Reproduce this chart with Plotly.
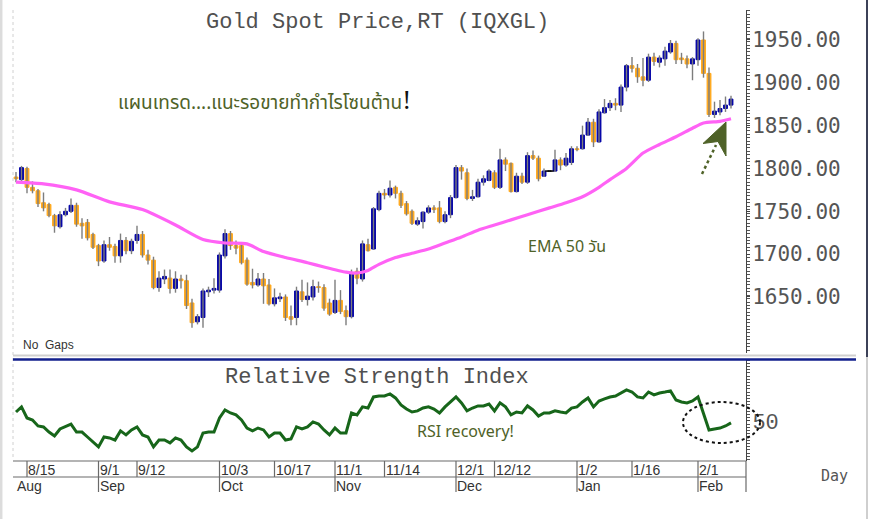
import plotly.graph_objects as go
import pandas as pd

W, H = 872, 519

# ---------------- data ----------------
dates = [d.strftime('%Y-%m-%d') for d in pd.bdate_range('2022-08-11', '2023-02-09')]

opens = [1790, 1787, 1800, 1778, 1774, 1760, 1758, 1745, 1732, 1746, 1750, 1757, 1736, 1737, 1723, 1710,
         1692, 1711, 1709, 1698, 1716, 1704, 1716, 1723, 1699, 1693, 1661, 1671, 1672, 1660, 1671, 1669,
         1643, 1621, 1626, 1656, 1658, 1658, 1698, 1724, 1710, 1710, 1693, 1667, 1664, 1671, 1664, 1642,
         1648, 1650, 1627, 1626, 1656, 1647, 1650, 1662, 1661, 1643, 1632, 1646, 1634, 1627, 1680, 1671,
         1711, 1706, 1752, 1771, 1769, 1778, 1771, 1759, 1750, 1735, 1738, 1749, 1754, 1754, 1738, 1746,
         1766, 1801, 1795, 1765, 1767, 1784, 1786, 1795, 1778, 1810, 1806, 1773, 1791, 1784, 1815, 1812,
         1791, 1797, 1797, 1810, 1804, 1807, 1823, 1823, 1839, 1854, 1831, 1865, 1871, 1876, 1874, 1895,
         1920, 1917, 1907, 1903, 1930, 1924, 1928, 1936, 1946, 1929, 1928, 1922, 1927, 1950, 1911, 1863,
         1866, 1870, 1874]
highs = [1796, 1803, 1802, 1785, 1776, 1772, 1760, 1747, 1750, 1754, 1765, 1760, 1742, 1741, 1725, 1712,
         1716, 1720, 1712, 1724, 1720, 1718, 1733, 1727, 1705, 1697, 1680, 1682, 1682, 1680, 1676, 1676,
         1648, 1630, 1660, 1662, 1672, 1702, 1729, 1727, 1716, 1713, 1696, 1683, 1678, 1678, 1671, 1660,
         1655, 1653, 1640, 1662, 1670, 1667, 1670, 1668, 1665, 1648, 1670, 1658, 1640, 1682, 1684, 1716,
         1718, 1755, 1774, 1776, 1786, 1780, 1774, 1762, 1752, 1743, 1750, 1757, 1757, 1762, 1750, 1769,
         1804, 1804, 1800, 1775, 1788, 1792, 1799, 1798, 1823, 1813, 1807, 1795, 1795, 1819, 1821, 1815,
         1800, 1798, 1822, 1813, 1818, 1826, 1826, 1850, 1859, 1858, 1869, 1881, 1880, 1882, 1898, 1922,
         1930, 1922, 1929, 1934, 1935, 1932, 1942, 1950, 1949, 1935, 1932, 1930, 1952, 1960, 1918, 1878,
         1880, 1884, 1885]
lows = [1784, 1785, 1771, 1771, 1755, 1750, 1743, 1725, 1730, 1744, 1748, 1732, 1718, 1716, 1706, 1686,
        1690, 1704, 1690, 1690, 1700, 1700, 1712, 1696, 1688, 1659, 1656, 1665, 1654, 1655, 1660, 1636,
        1614, 1618, 1614, 1650, 1654, 1655, 1695, 1705, 1700, 1688, 1663, 1660, 1662, 1642, 1640, 1639,
        1644, 1622, 1617, 1617, 1644, 1640, 1646, 1655, 1634, 1628, 1630, 1630, 1617, 1625, 1665, 1668,
        1703, 1705, 1750, 1764, 1766, 1765, 1754, 1745, 1734, 1733, 1730, 1747, 1748, 1736, 1736, 1742,
        1765, 1787, 1763, 1762, 1766, 1780, 1785, 1776, 1776, 1797, 1772, 1772, 1782, 1782, 1810, 1785,
        1790, 1796, 1796, 1798, 1802, 1804, 1820, 1822, 1838, 1825, 1830, 1864, 1867, 1868, 1866, 1890,
        1912, 1900, 1896, 1901, 1920, 1918, 1920, 1934, 1922, 1922, 1917, 1903, 1920, 1906, 1860, 1859,
        1862, 1866, 1870]
closes = [1788, 1801, 1778, 1774, 1759, 1754, 1745, 1733, 1746, 1750, 1757, 1735, 1733, 1719, 1708, 1692,
          1711, 1708, 1698, 1716, 1704, 1715, 1723, 1699, 1693, 1661, 1672, 1674, 1660, 1671, 1669, 1640,
          1620, 1627, 1657, 1658, 1660, 1699, 1724, 1710, 1707, 1690, 1665, 1664, 1671, 1663, 1642, 1649,
          1650, 1626, 1624, 1657, 1647, 1651, 1662, 1661, 1637, 1630, 1646, 1633, 1627, 1678, 1672, 1712,
          1704, 1753, 1771, 1769, 1777, 1771, 1757, 1747, 1736, 1739, 1749, 1754, 1752, 1738, 1746, 1766,
          1801, 1797, 1765, 1767, 1784, 1788, 1797, 1778, 1810, 1805, 1773, 1791, 1784, 1815, 1812, 1788,
          1797, 1797, 1810, 1804, 1812, 1823, 1822, 1839, 1854, 1831, 1866, 1871, 1876, 1874, 1895, 1920,
          1917, 1907, 1903, 1930, 1925, 1929, 1937, 1946, 1927, 1927, 1922, 1928, 1950, 1911, 1863, 1867,
          1870, 1874, 1881]

# EMA 50 at selected bars (bar index, value)
ema_idx = [0, 5, 11, 17, 23, 29, 34, 38, 42, 45, 49, 53, 56, 60, 62, 64, 66, 69, 72, 75, 78, 81, 84, 87,
           90, 93, 97, 100, 103, 106, 108, 111, 114, 117, 120, 123, 125, 128, 130]
ema_val = [1784, 1782, 1775, 1761, 1752, 1734, 1717, 1713, 1712, 1703, 1696, 1690, 1685, 1679, 1678, 1681,
           1688, 1696, 1701, 1706, 1713, 1720, 1728, 1734, 1740, 1746, 1754, 1760, 1767, 1778, 1787, 1800,
           1818, 1828, 1837, 1847, 1853, 1855, 1858]

rsi = [55.6, 58.8, 51.9, 50.6, 46.9, 46.3, 43.1, 40.6, 45.0, 46.3, 48.1, 43.1, 43.1, 40.0, 36.9, 33.8,
       40.0, 39.4, 38.1, 43.8, 41.3, 44.4, 46.3, 41.3, 40.0, 33.8, 38.1, 38.1, 36.3, 39.4, 38.1, 33.8,
       31.3, 33.8, 42.5, 43.1, 43.1, 51.9, 56.9, 55.0, 53.8, 50.6, 45.6, 43.8, 45.6, 44.4, 40.0, 42.5,
       42.5, 38.1, 38.8, 46.3, 45.0, 46.3, 49.4, 48.1, 44.4, 41.3, 45.6, 42.5, 42.5, 55.0, 53.8, 58.8,
       58.1, 65.0, 65.6, 65.6, 66.9, 64.4, 60.0, 57.5, 55.6, 56.3, 58.1, 58.8, 57.5, 55.0, 58.8, 61.9,
       65.0, 61.3, 56.3, 58.1, 59.4, 59.4, 60.6, 56.3, 61.3, 58.8, 53.8, 55.6, 55.0, 59.4, 56.9, 53.1,
       55.0, 55.0, 56.3, 55.6, 55.0, 58.1, 58.8, 61.9, 64.4, 58.8, 62.5, 63.8, 65.0, 65.6, 67.5, 69.4,
       68.1, 65.0, 64.4, 68.1, 66.3, 67.5, 68.1, 68.8, 63.1, 61.9, 61.3, 62.5, 65.0, 55.0, 44.4, 45.0,
       45.6, 46.9, 48.8]

price_ticks = [1650, 1700, 1750, 1800, 1850, 1900, 1950]
day_tick_dates = ['2022-08-15', '2022-09-01', '2022-09-12', '2022-10-03', '2022-10-17', '2022-11-01',
                  '2022-11-14', '2022-12-01', '2022-12-12', '2023-01-02', '2023-01-16', '2023-02-01']
day_tick_labels = ['8/15', '9/1', '9/12', '10/3', '10/17', '11/1', '11/14', '12/1', '12/12', '1/2', '1/16', '2/1']
month_tick_dates = ['2022-08-11', '2022-09-01', '2022-10-03', '2022-11-01', '2022-12-01', '2023-01-02', '2023-02-01']
month_labels = ['Aug', 'Sep', 'Oct', 'Nov', 'Dec', 'Jan', 'Feb']

# ---------------- styling ----------------
BLUE = '#0000a6'
ORANGE = '#ffa81c'
WICK = '#7d7d7d'
OLIVE = '#4f6228'
GREY_TXT = '#505050'


def px(x):
    return x / W


def py(y):
    return 1 - y / H


X0, X1 = 13, 746
x_dom = [px(X0), px(X1)]
# bar index i sits at pixel 16 + 5.5*i
x_range = [(X0 - 16) / 5.5, (X1 - 16) / 5.5]

fig = go.Figure()

# wicks
wx, wy = [], []
for d, lo, hi in zip(dates, lows, highs):
    wx += [d, d, None]
    wy += [lo, hi, None]
fig.add_trace(go.Scatter(x=wx, y=wy, mode='lines', line=dict(color=WICK, width=1.4),
                         hoverinfo='skip', xaxis='x', yaxis='y'))

# bodies
base, height, cols = [], [], []
for o, c in zip(opens, closes):
    base.append(min(o, c))
    height.append(abs(c - o))
    cols.append(BLUE if c > o else (ORANGE if c < o else '#000000'))
fig.add_trace(go.Bar(x=dates, y=height, base=base, width=0.7,
                     marker=dict(color=cols, line=dict(color=cols, width=1)),
                     hoverinfo='skip', xaxis='x', yaxis='y'))

# dojis
dj_x = [d for d, o, c in zip(dates, opens, closes) if o == c]
dj_y = [c for o, c in zip(opens, closes) if o == c]
fig.add_trace(go.Scatter(x=dj_x, y=dj_y, mode='markers',
                         marker=dict(symbol='line-ew', size=6, line=dict(color='#000000', width=1.5)),
                         hoverinfo='skip', xaxis='x', yaxis='y'))

# EMA
fig.add_trace(go.Scatter(x=[dates[i] for i in ema_idx], y=ema_val, mode='lines',
                         line=dict(color='#ff62f5', width=3.2, shape='spline', smoothing=0.6),
                         hoverinfo='skip', xaxis='x', yaxis='y'))

# RSI
fig.add_trace(go.Scatter(x=dates, y=rsi, mode='lines', line=dict(color='#17661a', width=3),
                         hoverinfo='skip', xaxis='x', yaxis='y2'))

shapes = []
# left dotted plot edge
shapes.append(dict(type='line', xref='paper', yref='paper', x0=px(13), x1=px(13), y0=py(10), y1=py(460),
                   line=dict(color='#d0d0d0', width=1, dash='dot')))
# panel separator
shapes.append(dict(type='line', xref='paper', yref='paper', x0=px(13), x1=px(856), y0=py(355.5), y1=py(355.5),
                   line=dict(color='#cfcfcf', width=2)))
shapes.append(dict(type='line', xref='paper', yref='paper', x0=px(13), x1=px(856), y0=py(359.5), y1=py(359.5),
                   line=dict(color='#121f8c', width=2.5)))
# outer frame
shapes.append(dict(type='line', xref='paper', yref='paper', x0=px(1.2), x1=px(1.2), y0=0, y1=1,
                   line=dict(color='#dcdcdc', width=2.5)))
shapes.append(dict(type='line', xref='paper', yref='paper', x0=px(867), x1=px(867), y0=py(0), y1=py(357),
                   line=dict(color='#3c4158', width=2)))
shapes.append(dict(type='line', xref='paper', yref='paper', x0=px(867), x1=px(867), y0=py(357), y1=0,
                   line=dict(color='#cfcfcf', width=2)))
# date strip
for yy in (461, 477):
    shapes.append(dict(type='line', xref='paper', yref='paper', x0=px(X0), x1=px(X1), y0=py(yy), y1=py(yy),
                       line=dict(color='#6a6a6a', width=1.2)))
shapes.append(dict(type='line', xref='paper', yref='paper', x0=px(X1), x1=px(X1), y0=py(461), y1=py(492),
                   line=dict(color='#6a6a6a', width=1.2)))
for d in day_tick_dates:
    shapes.append(dict(type='line', xref='x', yref='paper', x0=d, x1=d, y0=py(461), y1=py(477),
                       line=dict(color='#6a6a6a', width=1.2)))
for d in month_tick_dates[1:]:
    shapes.append(dict(type='line', xref='x', yref='paper', x0=d, x1=d, y0=py(477), y1=py(492),
                       line=dict(color='#6a6a6a', width=1.2)))
# dotted ellipse around RSI recovery
shapes.append(dict(type='circle', xref='paper', yref='paper', x0=px(683), x1=px(760), y0=py(443), y1=py(402),
                   line=dict(color='#111111', width=2, dash='dot')))
# dotted arrow toward EMA
shapes.append(dict(type='line', xref='paper', yref='paper', x0=px(702), y0=py(174), x1=px(716), y1=py(145),
                   line=dict(color=OLIVE, width=2.5, dash='dot')))
head = 'M {} {} L {} {} L {} {} L {} {} Z'.format(px(726), py(122), px(703), py(143.5), px(718), py(141.5),
                                                  px(726), py(156))
shapes.append(dict(type='path', xref='paper', yref='paper', path=head, fillcolor=OLIVE,
                   line=dict(color=OLIVE, width=1)))

annotations = []
annotations.append(dict(xref='paper', yref='paper', x=px(377), y=py(23), text='Gold Spot Price,RT (IQXGL)',
                        showarrow=False, xanchor='center', yanchor='middle',
                        font=dict(family='Liberation Mono', size=22, color=GREY_TXT)))
annotations.append(dict(xref='paper', yref='paper', x=px(377), y=py(377), text='Relative Strength Index',
                        showarrow=False, xanchor='center', yanchor='middle',
                        font=dict(family='Liberation Mono', size=22, color=GREY_TXT)))
annotations.append(dict(xref='paper', yref='paper', x=px(116), y=py(101),
                        text='แผนเทรด....แนะรอขายทำกำไรโซนต้าน'
                             '<span style="color:#111111;font-family:Liberation Serif;font-size:27px">!</span>',
                        showarrow=False, xanchor='left', yanchor='middle',
                        font=dict(family='Noto Sans Thai, Tahoma, DejaVu Sans, sans-serif', size=19, color=OLIVE)))
annotations.append(dict(xref='paper', yref='paper', x=px(526), y=py(246), text='EMA 50 วัน',
                        showarrow=False, xanchor='left', yanchor='middle',
                        font=dict(family='Noto Sans, Noto Sans Thai, sans-serif', size=16, color=OLIVE)))
annotations.append(dict(xref='paper', yref='paper', x=px(415), y=py(431), text='RSI recovery!',
                        showarrow=False, xanchor='left', yanchor='middle',
                        font=dict(family='Noto Sans, sans-serif', size=16, color=OLIVE)))
annotations.append(dict(xref='paper', yref='paper', x=px(21), y=py(345), text='No  Gaps',
                        showarrow=False, xanchor='left', yanchor='middle',
                        font=dict(family='Liberation Sans', size=12, color='#333333')))
annotations.append(dict(xref='paper', yref='paper', x=px(819), y=py(476), text='Day',
                        showarrow=False, xanchor='left', yanchor='middle',
                        font=dict(family='DejaVu Sans Mono', size=15, color='#555555')))
for d, lab in zip(day_tick_dates, day_tick_labels):
    annotations.append(dict(xref='x', yref='paper', x=d, y=py(470), text=lab, showarrow=False,
                            xanchor='left', yanchor='middle', xshift=-1,
                            font=dict(family='Liberation Sans Narrow, Liberation Sans', size=14, color='#333333')))
for d, lab in zip(month_tick_dates, month_labels):
    annotations.append(dict(xref='x', yref='paper', x=d, y=py(486), text=lab, showarrow=False,
                            xanchor='left', yanchor='middle', xshift=-1,
                            font=dict(family='Liberation Sans Narrow, Liberation Sans', size=14, color='#333333')))

fig.update_layout(
    width=W, height=H, margin=dict(l=0, r=0, t=0, b=0),
    paper_bgcolor='white', plot_bgcolor='white', showlegend=False, barmode='overlay',
    xaxis=dict(domain=x_dom, type='category', range=x_range, showticklabels=False, showgrid=False,
               zeroline=False, showline=False, ticks='', anchor='y', categoryorder='array', categoryarray=dates),
    yaxis=dict(domain=[py(353), py(10)], range=[1584.6, 1985], side='right', anchor='x',
               tickvals=price_ticks, tickformat='.2f', showgrid=False, zeroline=False,
               showline=True, linecolor='#444444', linewidth=1, ticks='outside', ticklen=3, tickcolor='#444444',
               ticklabelstandoff=-2,
               tickfont=dict(family='DejaVu Sans Mono', size=21, color='#555555'),
               minor=dict(dtick=4, ticklen=3, tickcolor='#555555', ticks='outside', showgrid=False)),
    yaxis2=dict(domain=[py(461), py(360)], range=[25, 88.1], side='right', anchor='x',
                tickvals=[50], ticktext=['50'], showgrid=False, zeroline=False,
                showline=True, linecolor='#444444', linewidth=1, ticks='outside', ticklen=3, tickcolor='#444444',
                ticklabelstandoff=-2,
                tickfont=dict(family='Liberation Mono', size=22, color='#555555'),
                minor=dict(dtick=2, ticklen=3, tickcolor='#555555', ticks='outside', showgrid=False)),
    shapes=shapes, annotations=annotations,
)

fig.write_html('out.html')
